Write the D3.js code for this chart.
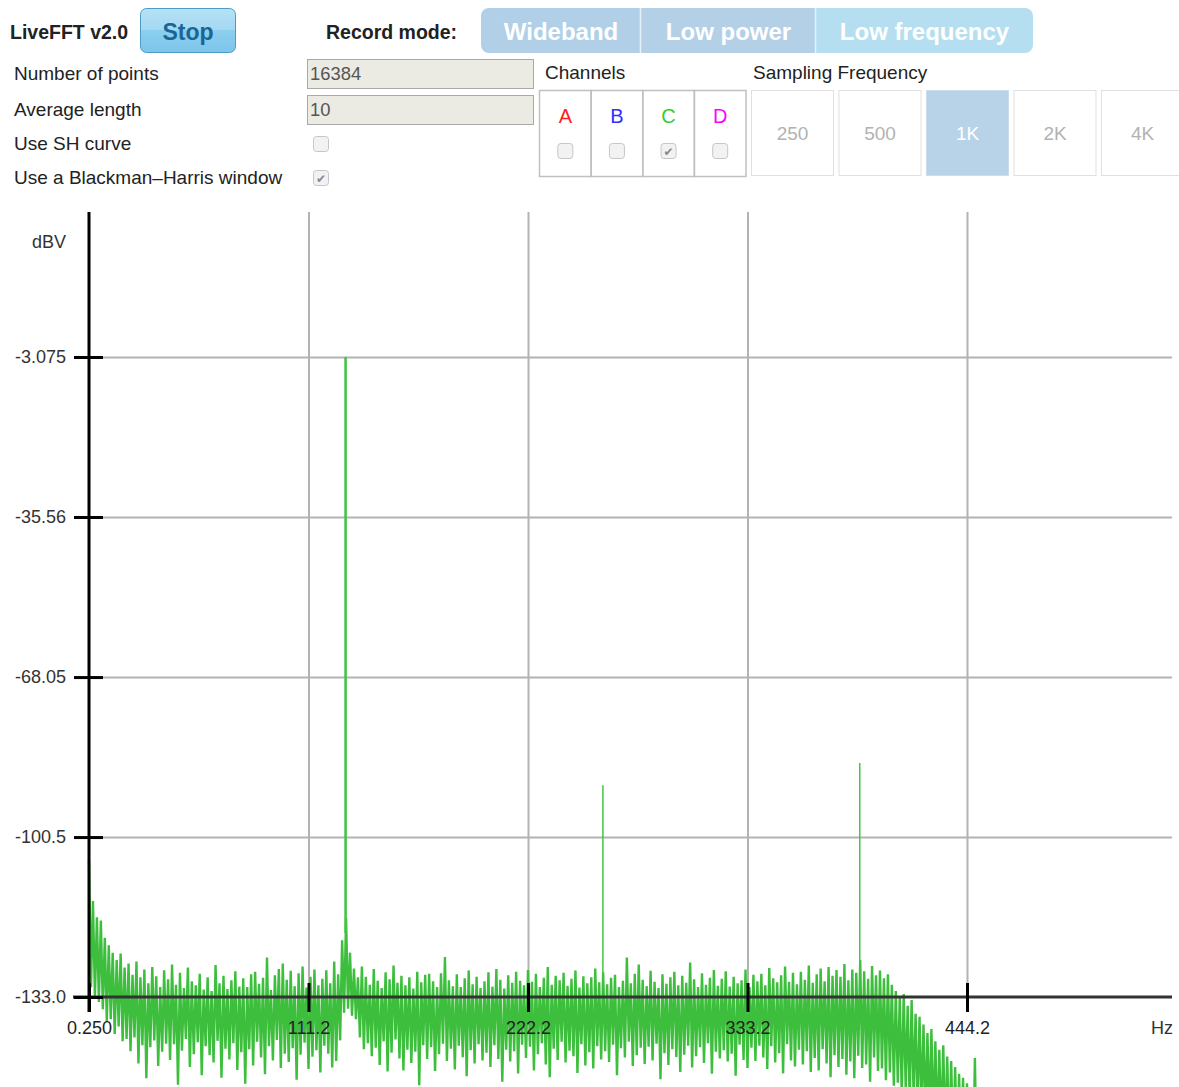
<!DOCTYPE html>
<html>
<head>
<meta charset="utf-8">
<script src="https://cdn.jsdelivr.net/npm/d3@7"></script>
<style>
body { margin: 0; background: #fff; overflow: hidden; }
svg { display: block; font-family: "Liberation Sans", Arial, sans-serif; }
</style>
</head>
<body>
<svg id="page" width="1179" height="1087"></svg>
<script>
// ---- data ----
const recordModes = ["Wideband", "Low power", "Low frequency"];
const optionLabels = ["Number of points", "Average length", "Use SH curve", "Use a Blackman\u2013Harris window"];
const inputValues = ["16384", "10"];
const channelNames = ["A", "B", "C", "D"];
const channelChecked = [false, false, true, false];
const sampleRates = ["250", "500", "1K", "2K", "4K"];
const selectedRate = "1K";

const xTickValues = [0.25, 111.25, 222.25, 333.25, 444.25];
const xTickLabels = ["0.250", "111.2", "222.2", "333.2", "444.2"];
const yTickValues = [-3.075, -35.56, -68.05, -100.53, -133.0];
const yTickLabels = ["-3.075", "-35.56", "-68.05", "-100.5", "-133.0"];

// spectrum lines (Hz, dBV), base of the spike, width in Hz
const peakHz = [129.6, 260.0, 389.9];
const peakDb = [-3.075, -90.0, -85.5];
const peakBaseDb = [-120.0, -130.0, -128.0];
const peakWidthHz = [0.8, 0.25, 0.25];

// noise floor, one high and one low reading per 2 Hz bin starting at 0.25 Hz
const binStart = 0.25, binWidth = 2;
const noiseHigh = [
  -105.2, -113.5, -116.8, -117.5, -121.0, -122.5, -124.0, -125.5, -124.2, -127.0,
  -126.2, -128.5, -125.8, -129.0, -127.4, -130.2, -126.9, -128.8, -131.0, -127.6,
  -129.4, -126.4, -130.5, -128.1, -131.2, -127.0, -129.8, -130.6, -128.3, -131.5,
  -129.0, -131.8, -126.5, -130.2, -128.7, -131.4, -129.6, -127.8, -130.9, -129.2,
  -131.0, -128.4, -127.9, -130.3, -129.1, -125.0, -131.6, -128.6, -127.3, -126.2,
  -129.5, -127.7, -130.8, -128.2, -126.8, -131.1, -128.9, -127.4, -130.6, -129.3,
  -127.6, -130.2, -125.8, -128.4, -121.5, -117.0, -124.0, -127.2, -129.0, -126.8,
  -128.9, -130.5, -127.3, -129.7, -131.2, -128.0, -129.4, -126.6, -130.1, -128.7,
  -130.6, -129.0, -131.3, -127.9, -130.0, -128.5, -128.3, -129.8, -131.0, -128.2,
  -124.9, -129.6, -130.8, -128.4, -131.0, -129.2, -127.6, -130.4, -128.9, -131.2,
  -129.8, -128.0, -130.9, -127.3, -129.5, -131.3, -128.6, -130.1, -127.9, -129.7,
  -130.6, -127.5, -129.9, -128.3, -131.0, -129.1, -126.9, -130.5, -128.7, -129.6,
  -128.1, -130.7, -129.3, -127.6, -131.1, -128.8, -130.2, -129.0, -127.2, -130.0,
  -128.0, -130.4, -129.1, -128.5, -131.0, -129.7, -125.0, -130.2, -128.3, -126.4,
  -129.5, -130.8, -127.7, -129.9, -131.2, -128.4, -130.3, -129.0, -127.9, -130.6,
  -128.7, -130.1, -126.0, -129.4, -131.0, -128.2, -130.5, -129.1, -127.5, -130.7,
  -129.3, -127.8, -130.9, -128.9, -130.2, -129.6, -127.4, -131.0, -128.5, -129.8,
  -128.3, -130.6, -127.1, -129.2, -130.0, -128.6, -126.8, -129.9, -128.1, -130.4,
  -127.9, -129.5, -126.6, -130.1, -128.4, -127.2, -129.8, -126.9, -128.7, -127.5,
  -128.9, -126.3, -129.6, -127.4, -128.1, -125.5, -127.8, -129.3, -126.7, -128.6,
  -127.6, -129.2, -128.4, -130.5, -131.8, -133.0, -132.4, -134.8, -133.6, -136.4,
  -137.0, -138.6, -140.3, -139.5, -142.0, -143.7, -142.8, -145.1, -146.0, -147.2,
  -148.6, -149.4, -150.5, -151.8, -145.4, -153.0, -154.5, -156.0, -157.0, -158.5
];
const noiseLow = [
  -131.0, -133.0, -134.0, -135.5, -138.0, -137.5, -140.5, -139.0, -142.0, -141.5,
  -144.0, -141.2, -146.5, -142.8, -149.5, -143.2, -141.8, -147.0, -144.1, -142.5,
  -145.8, -142.6, -150.8, -143.9, -141.5, -147.2, -144.6, -142.2, -148.9, -143.0,
  -144.8, -146.3, -141.9, -149.4, -143.5, -145.7, -142.4, -147.8, -144.2, -150.6,
  -143.6, -146.9, -142.1, -145.3, -148.7, -143.0, -145.9, -141.7, -147.4, -144.5,
  -146.2, -143.4, -149.8, -144.7, -142.3, -147.6, -145.1, -143.8, -148.3, -142.9,
  -144.5, -147.3, -146.0, -141.8, -136.2, -135.4, -136.8, -137.5, -141.2, -143.6,
  -142.4, -145.0, -143.3, -146.8, -142.0, -148.1, -144.3, -141.6, -145.5, -147.9,
  -143.7, -146.4, -144.1, -150.9, -142.8, -145.6, -143.2, -148.0, -144.6, -142.5,
  -146.0, -143.5, -147.7, -142.9, -145.2, -149.1, -143.8, -146.5, -142.6, -145.9,
  -144.3, -147.2, -142.8, -145.6, -150.2, -143.7, -146.1, -144.0, -148.5, -142.7,
  -145.4, -143.1, -147.9, -144.6, -142.4, -146.7, -149.3, -143.5, -145.8, -142.1,
  -146.3, -143.9, -145.0, -148.4, -142.6, -146.9, -144.2, -147.5, -143.0, -145.7,
  -144.0, -146.2, -142.7, -148.9, -143.4, -145.3, -142.1, -147.0, -144.8, -143.3,
  -146.6, -143.1, -145.9, -142.5, -149.7, -144.4, -146.8, -143.6, -145.2, -148.2,
  -144.7, -142.9, -147.3, -145.0, -143.2, -146.4, -142.4, -148.6, -144.1, -145.5,
  -143.8, -146.1, -144.5, -149.0, -142.7, -145.8, -147.4, -143.3, -146.0, -142.9,
  -145.3, -147.6, -143.0, -146.3, -144.4, -148.5, -142.6, -145.9, -147.1, -143.7,
  -146.7, -144.0, -148.2, -145.4, -147.9, -143.6, -146.5, -149.3, -144.8, -147.2,
  -145.6, -148.8, -146.1, -149.5, -144.9, -147.4, -146.7, -150.2, -145.3, -148.0,
  -147.5, -149.9, -148.3, -151.0, -150.4, -152.8, -151.6, -154.0, -153.2, -155.5,
  -156.0, -157.5, -158.0, -159.2, -160.0, -161.0, -162.0, -163.0, -164.0, -165.0,
  -166.0, -167.0, -168.0, -169.0, -170.0, -171.0, -172.0, -173.0, -174.0, -175.0
];

const svg = d3.select("#page");
const defs = svg.append("defs");

// ---------- control panel ----------
svg.append("text").attr("x", 10).attr("y", 39)
  .style("font-size", "19.5px").style("font-weight", "bold").attr("fill", "#222")
  .text("LiveFFT v2.0");

const stopGrad = defs.append("linearGradient").attr("id", "stopGrad")
  .attr("x1", 0).attr("y1", 0).attr("x2", 0).attr("y2", 1);
[["0", "#b6e2f6"], ["0.5", "#a3d8f2"], ["0.5", "#8ccfef"], ["1", "#7cc5ea"]]
  .forEach(s => stopGrad.append("stop").attr("offset", s[0]).attr("stop-color", s[1]));

svg.append("rect").attr("x", 140.5).attr("y", 8.5).attr("width", 95).attr("height", 44)
  .attr("rx", 6).attr("fill", "url(#stopGrad)").attr("stroke", "#4f9bc7");
svg.append("text").attr("x", 188).attr("y", 40).attr("text-anchor", "middle")
  .style("font-size", "23px").style("font-weight", "bold").attr("fill", "#1a6594")
  .text("Stop");

svg.append("text").attr("x", 326).attr("y", 39)
  .style("font-size", "19.5px").style("font-weight", "bold").attr("fill", "#222")
  .text("Record mode:");

// segmented record mode control
const modeEdges = [481, 641, 816, 1033];
const modeFills = ["#b1d0e8", "#b3d0e7", "#b5dff1"];
defs.append("clipPath").attr("id", "modeClip").append("rect")
  .attr("x", 481).attr("y", 8).attr("width", 552).attr("height", 45).attr("rx", 8);
const modeG = svg.append("g").attr("clip-path", "url(#modeClip)");
recordModes.forEach((m, i) => {
  modeG.append("rect").attr("x", modeEdges[i]).attr("y", 8)
    .attr("width", modeEdges[i + 1] - modeEdges[i]).attr("height", 45)
    .attr("fill", modeFills[i]);
  if (i > 0) {
    modeG.append("line").attr("x1", modeEdges[i] - 0.5).attr("x2", modeEdges[i] - 0.5)
      .attr("y1", 8).attr("y2", 53).attr("stroke", "#e4f1f9").attr("stroke-width", 1.5);
  }
  svg.append("text").attr("x", (modeEdges[i] + modeEdges[i + 1]) / 2).attr("y", 40)
    .attr("text-anchor", "middle").style("font-size", "24px").style("font-weight", "bold")
    .attr("fill", "#fff").text(m);
});

// option rows
const rowBase = [80, 116, 150, 184];
optionLabels.forEach((t, i) => {
  svg.append("text").attr("x", 14).attr("y", rowBase[i])
    .style("font-size", "19px").attr("fill", "#222").text(t);
});
inputValues.forEach((v, i) => {
  svg.append("rect").attr("x", 307.5).attr("y", 59.5 + i * 36).attr("width", 226).attr("height", 29)
    .attr("fill", "#ebebe4").attr("stroke", "#a9a9a9");
  svg.append("text").attr("x", 310).attr("y", 80 + i * 36)
    .style("font-size", "18.4px").attr("fill", "#555").text(v);
});

const checkbox = (x, y, checked) => {
  svg.append("rect").attr("x", x + 0.5).attr("y", y + 0.5).attr("width", 15).attr("height", 15)
    .attr("rx", 3).attr("fill", "#f2f2f2").attr("stroke", "#c6c6c6");
  if (checked) {
    svg.append("text").attr("x", x + 8).attr("y", y + 13).attr("text-anchor", "middle")
      .style("font-family", "DejaVu Sans").style("font-size", "12px").attr("fill", "#8a8a8a")
      .text("\u2714");
  }
};
checkbox(313, 136, false);
checkbox(313, 170, true);

// channels
svg.append("text").attr("x", 545).attr("y", 79).style("font-size", "19px").attr("fill", "#222").text("Channels");
svg.append("text").attr("x", 753).attr("y", 79).style("font-size", "19px").attr("fill", "#222").text("Sampling Frequency");

const chColors = ["#ff2020", "#3030ff", "#33cc33", "#ff00ff"];
const chX = d3.scaleBand().domain(channelNames).range([539.5, 746]);
channelNames.forEach((c, i) => {
  const x0 = chX(c);
  svg.append("rect").attr("x", x0).attr("y", 90.5).attr("width", chX.bandwidth()).attr("height", 86)
    .attr("fill", "none").attr("stroke", "#c0c0c0").attr("stroke-width", 1.5);
  svg.append("text").attr("x", x0 + chX.bandwidth() / 2).attr("y", 123).attr("text-anchor", "middle")
    .style("font-size", "20px").attr("fill", chColors[i]).text(c);
  checkbox(x0 + chX.bandwidth() / 2 - 8, 143, channelChecked[i]);
});

const rateX = d3.scaleBand().domain(sampleRates).range([751, 1183]).paddingInner(0.063);
sampleRates.forEach(r => {
  const sel = r === selectedRate;
  svg.append("rect").attr("x", rateX(r) + 0.5).attr("y", 90.5).attr("width", rateX.bandwidth()).attr("height", 85)
    .attr("fill", sel ? "#b8d3e8" : "#fff").attr("stroke", sel ? "#c9dded" : "#e0e0e0");
  svg.append("text").attr("x", rateX(r) + rateX.bandwidth() / 2 + 0.5).attr("y", 140).attr("text-anchor", "middle")
    .style("font-size", "19px").attr("fill", sel ? "#fff" : "#b2b2b2").text(r);
});

// ---------- FFT chart ----------
const x = d3.scaleLinear().domain([0.25, 444.25]).range([89, 967]);
const y = d3.scaleLinear().domain([-133.0, -3.075]).range([997, 357]);
const plotRight = 1172, plotTop = 212;

// grid
svg.append("g").attr("transform", "translate(89,0)")
  .call(d3.axisLeft(y).tickValues(yTickValues.slice(0, 4)).tickSize(-(plotRight - 89)).tickFormat(""))
  .call(g => g.select(".domain").remove())
  .call(g => g.selectAll("line").attr("stroke", "#b3b3b3").attr("stroke-width", 2));
svg.append("g").attr("transform", "translate(0,997)")
  .call(d3.axisBottom(x).tickValues(xTickValues.slice(1)).tickSize(-(997 - plotTop)).tickFormat(""))
  .call(g => g.select(".domain").remove())
  .call(g => g.selectAll("line").attr("stroke", "#b3b3b3").attr("stroke-width", 2));

// noise floor trace
const pts = [];
noiseHigh.forEach((h, k) => {
  const f = binStart + k * binWidth;
  pts.push([f, h]);
  pts.push([f + binWidth / 2, noiseLow[k]]);
});

svg.append("path").datum(pts)
  .attr("fill", "none").attr("stroke", "#3dbf3d").attr("stroke-width", 2.4)
  .attr("stroke-linejoin", "miter").attr("stroke-miterlimit", 2)
  .attr("d", d3.line().x(d => x(d[0])).y(d => y(d[1])));

// spectral lines
peakHz.forEach((c, i) => {
  svg.append("line")
    .attr("x1", x(c + peakWidthHz[i] / 2)).attr("x2", x(c + peakWidthHz[i] / 2))
    .attr("y1", y(peakBaseDb[i])).attr("y2", y(peakDb[i]))
    .attr("stroke", "#44c444").attr("stroke-width", x(c + peakWidthHz[i]) - x(c) + 1);
});

// axes on top of the trace
svg.append("line").attr("x1", 73).attr("x2", plotRight).attr("y1", y(-133)).attr("y2", y(-133))
  .attr("stroke", "#333").attr("stroke-width", 3);
svg.append("line").attr("x1", 89).attr("x2", 89).attr("y1", plotTop).attr("y2", 1012)
  .attr("stroke", "#000").attr("stroke-width", 3);

svg.append("g").attr("transform", "translate(89,0)")
  .call(d3.axisLeft(y).tickValues(yTickValues).tickFormat((d, i) => yTickLabels[i]).tickSize(15).tickPadding(8))
  .call(g => g.select(".domain").remove())
  .call(g => g.selectAll("line").attr("x1", 14).attr("stroke", "#000").attr("stroke-width", 3))
  .call(g => g.selectAll("text").attr("fill", "#333").style("font-size", "18px")
    .style("font-family", "'Liberation Sans', Arial, sans-serif"));

svg.append("g").attr("transform", "translate(0,997)")
  .call(d3.axisBottom(x).tickValues(xTickValues).tickFormat((d, i) => xTickLabels[i]).tickSize(15).tickPadding(9))
  .call(g => g.select(".domain").remove())
  .call(g => g.selectAll("line").attr("y1", -14).attr("stroke", "#000").attr("stroke-width", 3))
  .call(g => g.selectAll("text").attr("fill", "#222").style("font-size", "18px")
    .style("font-family", "'Liberation Sans', Arial, sans-serif"));

svg.append("text").attr("x", 66).attr("y", 248).attr("text-anchor", "end")
  .style("font-size", "18px").attr("fill", "#333").text("dBV");
svg.append("text").attr("x", 1173).attr("y", 1034).attr("text-anchor", "end")
  .style("font-size", "18px").attr("fill", "#333").text("Hz");
</script>
</body>
</html>
